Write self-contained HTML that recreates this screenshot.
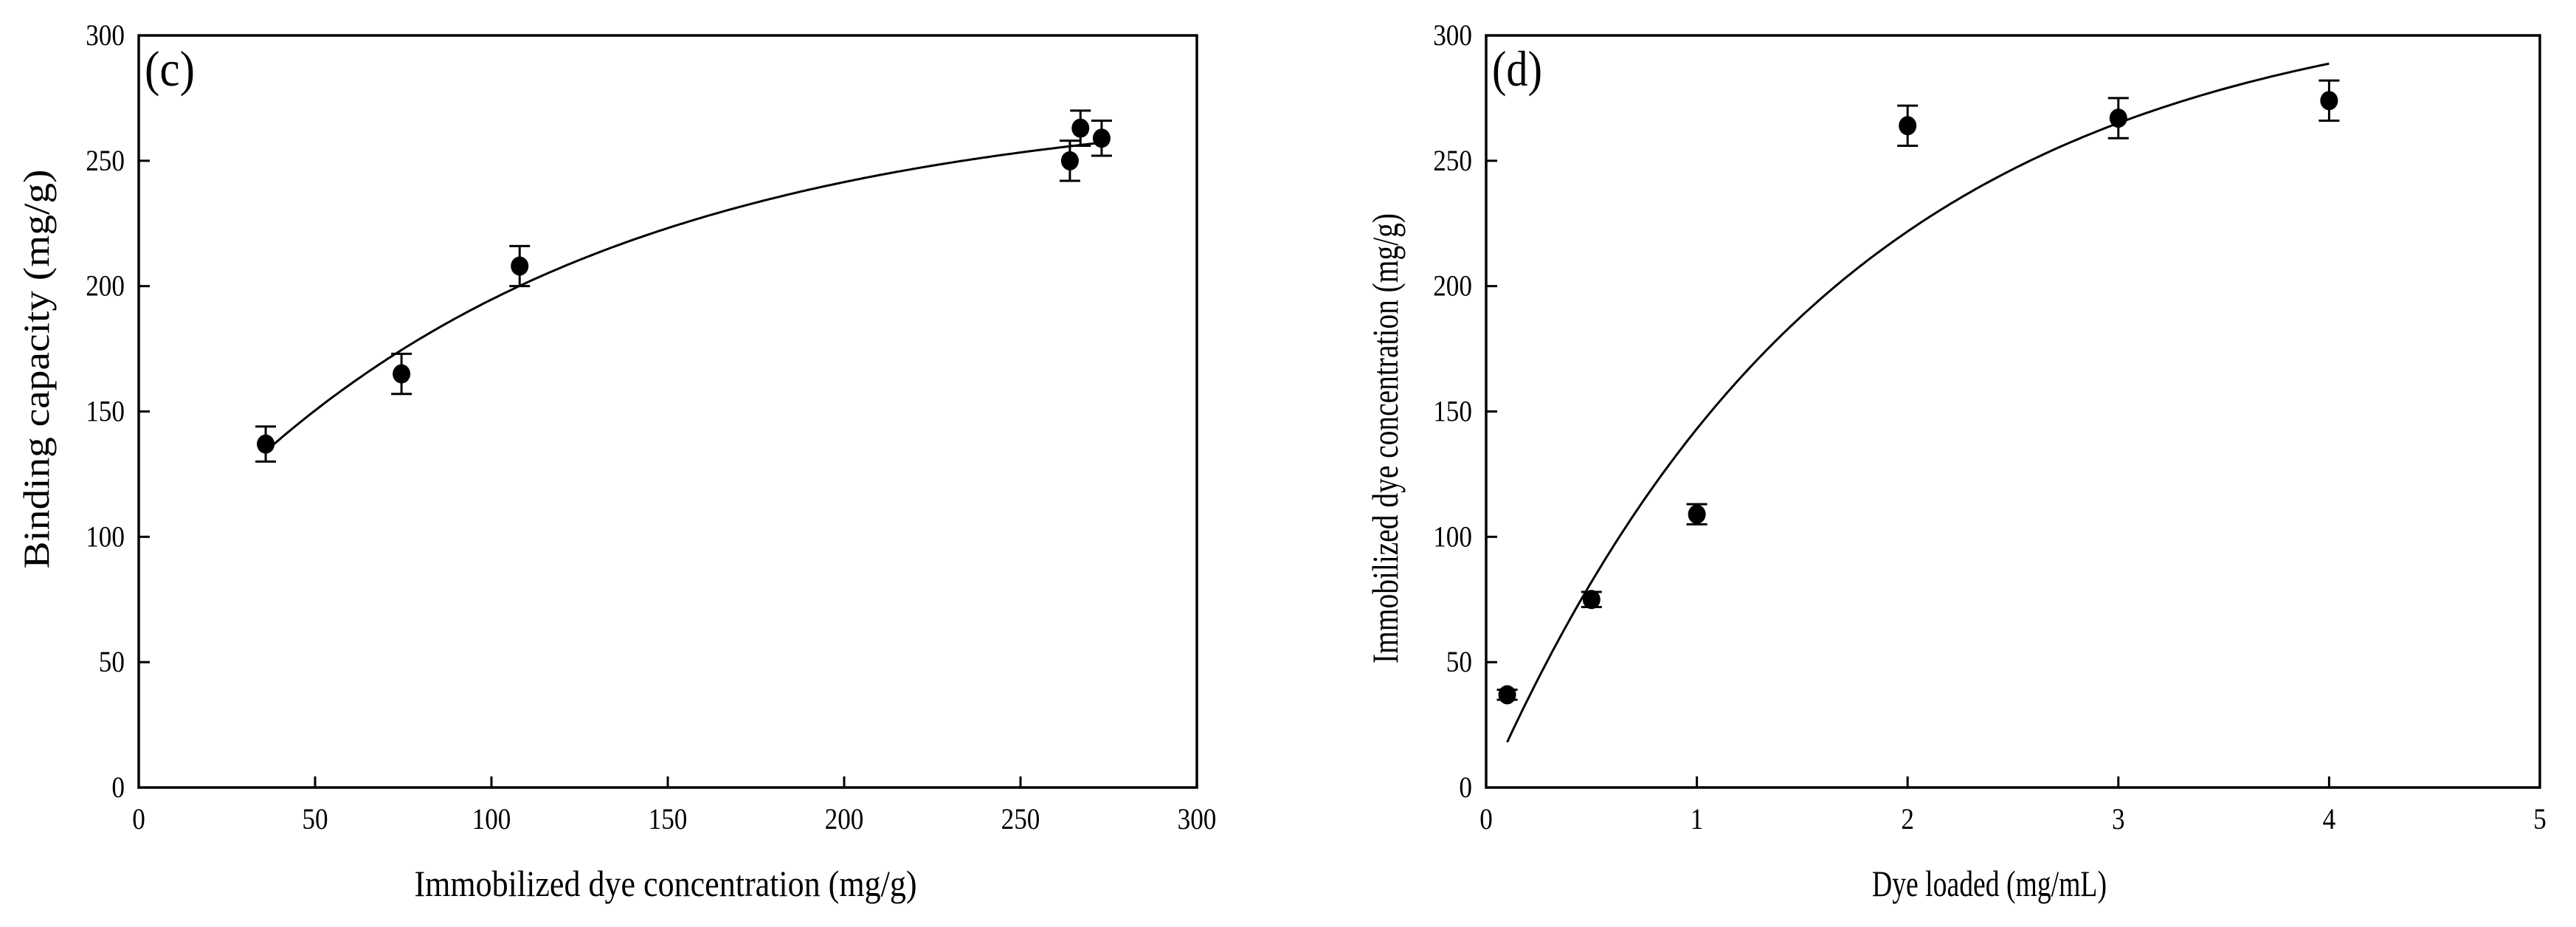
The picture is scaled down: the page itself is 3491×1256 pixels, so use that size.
<!DOCTYPE html>
<html><head><meta charset="utf-8"><style>
html,body{margin:0;padding:0;background:#fff;}
svg{display:block;font-family:"Liberation Serif",serif;}
</style></head><body>
<svg id="fig" width="3491" height="1256" viewBox="0 0 3491 1256" xmlns="http://www.w3.org/2000/svg"></svg>
<script>
// Panel (c) data
const cX = [36, 74.5, 108, 264, 267, 273];
const cY = [137, 165, 208, 250, 263, 259];
const cErr = [7, 8, 8, 8, 7, 7];
const cFit = {A: 274.7, B: 193, k: 0.0088, x0: 36, x1: 273};
const cXTicks = [0, 50, 100, 150, 200, 250, 300];
const cYTicks = [0, 50, 100, 150, 200, 250, 300];
// Panel (d) data
const dX = [0.1, 0.5, 1, 2, 3, 4];
const dY = [37, 75, 109, 264, 267, 274];
const dErr = [2, 3, 4, 8, 8, 8];
const dFit = {A: 317.6, B: 318, k: 0.6, x0: 0.1, x1: 4};
const dXTicks = [0, 1, 2, 3, 4, 5];
const dYTicks = [0, 50, 100, 150, 200, 250, 300];

const NS = "http://www.w3.org/2000/svg";
const svg = document.getElementById('fig');
function mk(tag, attrs, parent, text) {
  const e = document.createElementNS(NS, tag);
  for (const k in attrs) e.setAttribute(k, attrs[k]);
  if (text !== undefined) e.textContent = text;
  (parent || svg).appendChild(e);
  return e;
}

function panel(opt) {
  const g = mk('g', {});
  
  
  const L = opt.left, R = opt.right, T = 48, B = 1067;
  const sx = v => L + (v - opt.xmin) / (opt.xmax - opt.xmin) * (R - L);
  const sy = v => B - (v - opt.ymin) / (opt.ymax - opt.ymin) * (B - T);
  const frame = mk('rect', {x: L, y: T, width: R - L, height: B - T, fill: 'none', stroke: '#000', 'stroke-width': 3.5}, g);
  
  
  opt.xticks.forEach(t => {
    const x = sx(t);
    const tk = mk('line', {x1: x, x2: x, y1: B, y2: B - 15, stroke: '#000', 'stroke-width': 3}, g);
    
    
    const lb = mk('text', {x: x, y: 1123, 'font-size': 40, 'text-anchor': 'middle', transform: `translate(${x},0) scale(0.88,1) translate(${-x},0)`}, g, String(t));
    
    
  });
  opt.yticks.forEach(t => {
    const y = sy(t);
    const tk = mk('line', {x1: L, x2: L + 15, y1: y, y2: y, stroke: '#000', 'stroke-width': 3}, g);
    
    
    const ax = L - 19;
    const lb = mk('text', {x: ax, y: y + 13, 'font-size': 40, 'text-anchor': 'end', transform: `translate(${ax},0) scale(0.88,1) translate(${-ax},0)`}, g, String(t));
    
    
  });
  let d = '';
  const f = opt.fit;
  for (let i = 0; i <= 200; i++) {
    const x = f.x0 + (f.x1 - f.x0) * i / 200;
    const y = f.A - f.B * Math.exp(-f.k * x);
    d += (i ? 'L' : 'M') + sx(x).toFixed(1) + ',' + sy(y).toFixed(1);
  }
  const c = mk('path', {d: d, fill: 'none', stroke: '#000', 'stroke-width': 3}, g);
  
  
  opt.xs.forEach((xv, i) => {
    const x = sx(xv), y = sy(opt.ys[i]);
    const yt = sy(opt.ys[i] + opt.err[i]), yb = sy(opt.ys[i] - opt.err[i]);
    const eb = mk('path', {d: `M${x},${yt}V${yb}M${x-14},${yt}H${x+14}M${x-14},${yb}H${x+14}`, stroke: '#000', 'stroke-width': 3, fill: 'none'}, g);
    
    
    const p = mk('ellipse', {cx: x, cy: y, rx: 12, ry: 13, fill: '#000'}, g);
    
    
  });
  const pl = mk('text', {x: L + 8, y: 116, 'font-size': 68, textLength: 68, lengthAdjust: 'spacingAndGlyphs'}, g, opt.label);
  
  
  const xt = mk('text', {x: opt.xtx, y: 1214, 'font-size': 50, 'text-anchor': 'middle', textLength: opt.xtw, lengthAdjust: 'spacingAndGlyphs'}, g, opt.xtitle);
  
  
  const yt = mk('text', {x: 0, y: 0, 'font-size': 50, 'text-anchor': 'middle', textLength: opt.ytw, lengthAdjust: 'spacingAndGlyphs', transform: `translate(${opt.ytx},${opt.yty}) rotate(-90)`}, g, opt.ytitle);
  
  
}

panel({name: 'panel-c', left: 188, right: 1622, xmin: 0, xmax: 300, ymin: 0, ymax: 300,
  xticks: cXTicks, yticks: cYTicks, xs: cX, ys: cY, err: cErr, fit: cFit, label: '(c)',
  xtitle: 'Immobilized dye concentration (mg/g)', xtx: 902, xtw: 681,
  ytitle: 'Binding capacity (mg/g)', ytx: 66, yty: 500, ytw: 541});
panel({name: 'panel-d', left: 2014, right: 3442, xmin: 0, xmax: 5, ymin: 0, ymax: 300,
  xticks: dXTicks, yticks: dYTicks, xs: dX, ys: dY, err: dErr, fit: dFit, label: '(d)',
  xtitle: 'Dye loaded (mg/mL)', xtx: 2696, xtw: 318,
  ytitle: 'Immobilized dye concentration (mg/g)', ytx: 1894, yty: 594, ytw: 610});
</script>
</body></html>
